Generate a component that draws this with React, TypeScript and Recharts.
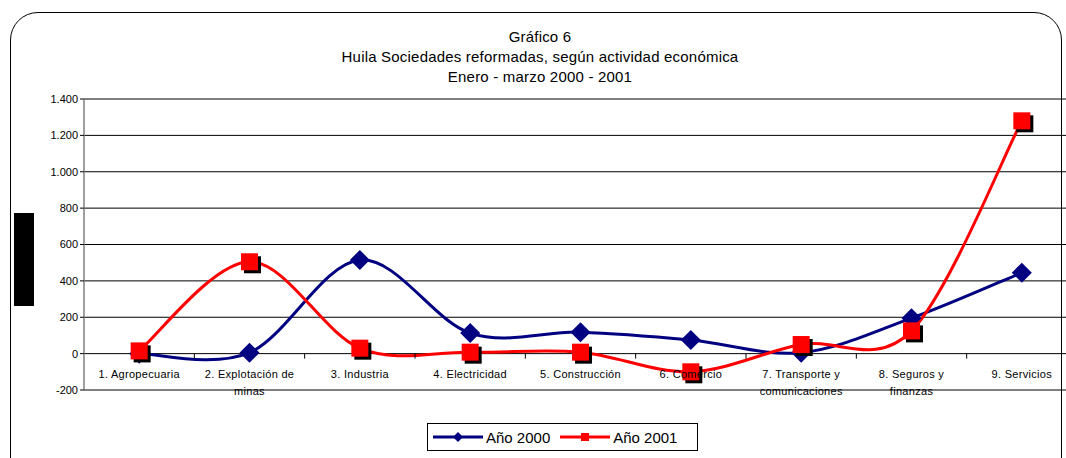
import { LineChart, Line, XAxis, YAxis, CartesianGrid } from 'recharts'

const categorias = [
  '1. Agropecuaria',
  '2. Explotación de\nminas',
  '3. Industria',
  '4. Electricidad',
  '5. Construcción',
  '6. Comercio',
  '7. Transporte y\ncomunicaciones',
  '8. Seguros y\nfinanzas',
  '9. Servicios',
]
const anio2000 = [0, 5, 515, 113, 118, 75, 5, 195, 445]
const anio2001 = [15, 505, 30, 8, 8, -100, 50, 125, 1280]
const yTicks = [-200, 0, 200, 400, 600, 800, 1000, 1200, 1400]
const titulo = ['Gráfico 6', 'Huila Sociedades reformadas, según actividad económica', 'Enero - marzo  2000 - 2001']
const serieNombres = ['Año 2000', 'Año 2001']

const data = categorias.map((c, i) => ({ cat: c, a2000: anio2000[i], a2001: anio2001[i] }))

const CHART_W = 1080
const CHART_H = 458
const MARGIN = { top: 99, right: 3, left: 0, bottom: 0 }
const Y_W = 84
const X_H = 68
const PLOT_W = CHART_W - MARGIN.right - Y_W
const PLOT_H = CHART_H - MARGIN.top - X_H
const BAND = PLOT_W / categorias.length
const Y_MIN = -200
const Y_MAX = 1400
const FONT = '"Liberation Sans", Arial, sans-serif'

// smoothed line like the spreadsheet one (catmull-rom, 1/6 control points)
function smoothCurve(context: any) {
  let pts: number[][] = []
  return {
    areaStart() {},
    areaEnd() {},
    lineStart() {
      pts = []
    },
    point(x: number, y: number) {
      pts.push([+x, +y])
    },
    lineEnd() {
      const n = pts.length
      if (!n) return
      context.moveTo(pts[0][0], pts[0][1])
      for (let i = 0; i < n - 1; i++) {
        const p0 = pts[Math.max(i - 1, 0)]
        const p1 = pts[i]
        const p2 = pts[i + 1]
        const p3 = pts[Math.min(i + 2, n - 1)]
        context.bezierCurveTo(
          p1[0] + (p2[0] - p0[0]) / 6,
          p1[1] + (p2[1] - p0[1]) / 6,
          p2[0] - (p3[0] - p1[0]) / 6,
          p2[1] - (p3[1] - p1[1]) / 6,
          p2[0],
          p2[1]
        )
      }
    },
  }
}

const fmt = (v: number) => String(v).replace(/\B(?=(\d{3})+(?!\d))/g, '.')

function Diamond(props: any) {
  const { cx, cy } = props
  if (cx == null || cy == null) return <g />
  const r = 10
  return <polygon points={`${cx},${cy - r} ${cx + r},${cy} ${cx},${cy + r} ${cx - r},${cy}`} fill="#000080" />
}

function Square(props: any) {
  const { cx, cy } = props
  if (cx == null || cy == null) return <g />
  const s = 17
  return (
    <g>
      <rect x={cx - s / 2 + 3} y={cy - s / 2 + 3} width={s} height={s} fill="#000" />
      <rect x={cx - s / 2} y={cy - s / 2} width={s} height={s} fill="#ff0000" />
    </g>
  )
}

function CatTick(props: any) {
  const { x, y, payload, index } = props
  const lines = String(payload.value).split('\n')
  const zeroY = y - (0 - Y_MIN) / (Y_MAX - Y_MIN) * PLOT_H
  return (
    <g>
      {index < categorias.length - 1 && (
        <line x1={x + BAND / 2} x2={x + BAND / 2} y1={zeroY} y2={zeroY + 5} stroke="#000" />
      )}
      <text x={x} y={y - 12} textAnchor="middle" fontSize={11} fontFamily={FONT} fill="#000" letterSpacing={0.3}>
        {lines.map((l, i) => (
          <tspan key={i} x={x} dy={i === 0 ? 0 : 17}>
            {l}
          </tspan>
        ))}
      </text>
    </g>
  )
}

function LegendIcon({ color, square }: { color: string; square?: boolean }) {
  return (
    <svg width={50} height={12} style={{ verticalAlign: 'middle' }}>
      <line x1={0} x2={50} y1={6} y2={6} stroke={color} strokeWidth={3} />
      {square ? (
        <rect x={21} y={2} width={8} height={8} fill={color} />
      ) : (
        <polygon points="25,1 30,6 25,11 20,6" fill={color} />
      )}
    </svg>
  )
}

export default function App() {
  return (
    <div style={{ position: 'absolute', left: 0, top: 0, width: 1066, height: 458, overflow: 'hidden', background: '#fff', fontFamily: FONT }}>
      <div
        style={{
          position: 'absolute',
          left: 10,
          top: 12,
          width: 1050,
          height: 480,
          border: '1.5px solid #000',
          borderRadius: 28,
        }}
      />
      <div style={{ position: 'absolute', left: 14, top: 213, width: 20, height: 93, background: '#000' }} />
      <div style={{ position: 'absolute', left: 0, top: 27, width: 1080, textAlign: 'center', fontSize: 15, letterSpacing: 0.2, lineHeight: '20px', color: '#000' }}>
        {titulo.map((t, i) => (
          <div key={i}>{t}</div>
        ))}
      </div>
      <div style={{ position: 'absolute', left: 0, top: 0 }}>
        <LineChart width={CHART_W} height={CHART_H} data={data} margin={MARGIN}>
          <CartesianGrid vertical={false} stroke="#000" strokeWidth={1} />
          <XAxis
            dataKey="cat"
            axisLine={false}
            tickLine={false}
            tickSize={0}
            tickMargin={0}
            height={X_H}
            interval={0}
            padding={{ left: BAND / 2, right: BAND / 2 }}
            tick={<CatTick />}
          />
          <YAxis
            domain={[Y_MIN, Y_MAX]}
            ticks={yTicks}
            width={Y_W}
            interval={0}
            tickFormatter={fmt}
            axisLine={{ stroke: '#808080', strokeWidth: 1.5 }}
            tickLine={{ stroke: '#000' }}
            tickSize={4}
            tick={{ fontSize: 11, fill: '#000', fontFamily: FONT }}
          />
          <Line
            dataKey="a2000"
            type={smoothCurve as any}
            stroke="#000080"
            strokeWidth={3}
            dot={<Diamond />}
            activeDot={false}
            isAnimationActive={false}
          />
          <Line
            dataKey="a2001"
            type={smoothCurve as any}
            stroke="#ff0000"
            strokeWidth={3}
            dot={<Square />}
            activeDot={false}
            isAnimationActive={false}
          />
        </LineChart>
      </div>
      <div
        style={{
          position: 'absolute',
          left: 427,
          top: 423,
          width: 271,
          height: 28,
          border: '1px solid #000',
          boxSizing: 'border-box',
          display: 'flex',
          alignItems: 'center',
          paddingLeft: 5,
          fontSize: 15,
          color: '#000',
        }}
      >
        <LegendIcon color="#000080" />
        <span style={{ marginLeft: 3, marginRight: 10 }}>{serieNombres[0]}</span>
        <LegendIcon color="#ff0000" square />
        <span style={{ marginLeft: 3 }}>{serieNombres[1]}</span>
      </div>
    </div>
  )
}
